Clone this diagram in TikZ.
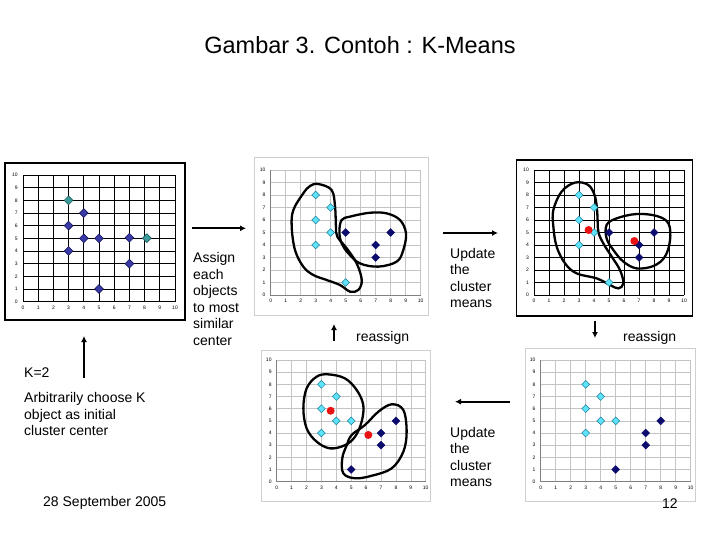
\documentclass[tikz,border=0pt]{standalone}
\usepackage{fontspec}
\setmainfont{Liberation Sans}
\usetikzlibrary{arrows.meta,shapes.geometric}
\definecolor{ptblue}{HTML}{3A3AA6}
\definecolor{ptblueE}{HTML}{15155A}
\definecolor{ptteal}{HTML}{3C9C9C}
\definecolor{ptteaE}{HTML}{1E5E5E}
\definecolor{ptcyan}{HTML}{5FE3FA}
\definecolor{ptcyanE}{HTML}{1A7F9A}
\definecolor{ptnavy}{HTML}{0C0C6E}
\definecolor{ptred}{HTML}{E81212}
\definecolor{lgrid}{HTML}{C4C4C4}
\definecolor{lframe}{HTML}{CFCFCF}
\newcommand{\kmgrid}[3]{%
  \draw[#2] (0,0) grid[step=1] (10,10);
  \draw[#3] (0,10) -- (0,0) -- (10,0);
  \foreach \i in {0,...,10}{%
    \node[ticklab, anchor=north] (#1x\i) at (\i,-0.3) {\i};
    \node[ticklab, anchor=east] (#1y\i) at (-0.3,\i) {\i};
  }}
\begin{document}
\begin{tikzpicture}[x=1pt,y=-1pt,
  ticklab/.style={font=\fontsize{5}{6}\selectfont, inner sep=0.5pt},
  darkgrid/.style={draw=black, line width=0.8pt},
  darkaxis/.style={draw=black, line width=1pt},
  litegrid/.style={draw=lgrid, line width=0.6pt},
  liteaxis/.style={draw=gray, line width=0.7pt},
  darkframe/.style={draw=black, line width=1.2pt},
  liteframe/.style={draw=lframe, line width=1pt},
  dmA/.style={diamond, fill=ptblue, draw=ptblueE, line width=0.6pt, minimum size=9pt, inner sep=0pt},
  dmT/.style={diamond, fill=ptteal, draw=ptteaE, line width=0.6pt, minimum size=9pt, inner sep=0pt},
  dmC/.style={diamond, fill=ptcyan, draw=ptcyanE, line width=0.5pt, minimum size=8pt, inner sep=0pt},
  dmN/.style={diamond, fill=ptnavy, draw=ptnavy, line width=0.5pt, minimum size=8pt, inner sep=0pt},
  rdot/.style={circle, fill=ptred, minimum size=8pt, inner sep=0pt},
  blob/.style={draw=black, line width=2.3pt},
  flow/.style={line width=2pt, -{Latex[length=6pt,width=6pt]}},
  txt/.style={font=\fontsize{14}{16.5}\selectfont, align=left, inner sep=0pt, anchor=north west}
]
\useasboundingbox (0,0) rectangle (720,540);

% title
\node[font=\fontsize{23.5}{26}\selectfont] (title) at (360,45) {Gambar 3. Contoh : K-Means};

% ---------- plot 1 ----------
\draw[darkframe] (5,163) rectangle (185,320);
\begin{scope}[shift={(23pt,-301.7pt)}, x=15.2pt, y=12.67pt]
  \kmgrid{pa}{darkgrid}{darkaxis}
  \node[dmT] (pa1) at (3,8) {};
  \node[dmA] (pa2) at (4,7) {};
  \node[dmA] (pa3) at (3,6) {};
  \node[dmA] (pa4) at (4,5) {};
  \node[dmA] (pa5) at (5,5) {};
  \node[dmA] (pa6) at (3,4) {};
  \node[dmA] (pa7) at (7,5.05) {};
  \node[dmT] (pa8) at (8.15,5.02) {};
  \node[dmA] (pa9) at (7,3) {};
  \node[dmA] (pa10) at (5,1) {};
\end{scope}

% ---------- plot 2 ----------
\draw[liteframe] (254,158) rectangle (428,315);
\begin{scope}[shift={(270.7pt,-295pt)}, x=15pt, y=12.5pt]
  \kmgrid{pb}{litegrid}{liteaxis}
  \draw[blob] plot[smooth cycle, tension=0.6] coordinates {(3.17,8.88) (4.06,8.4) (4.29,7.07) (4.35,5.47) (4.44,4.67) (5.07,3.73) (5.73,2.53) (6.07,1.2) (5.84,0.4) (5.29,0.27) (4.62,0.8) (3.73,1.2) (2.84,1.6) (2.17,2.27) (1.62,3.6) (1.4,5.47) (1.51,6.8) (2.17,8.13) (2.62,8.72)};
  \draw[blob] plot[smooth cycle, tension=0.6] coordinates {(4.73,6.0) (5.29,6.27) (6.62,6.58) (7.73,6.53) (8.62,6.0) (9.02,4.93) (8.84,3.6) (8.4,2.67) (7.17,2.27) (5.95,2.53) (5.18,3.33) (4.73,4.13) (4.58,5.07)};
  \node[dmC] (pb1) at (3,8) {};
  \node[dmC] (pb2) at (4,7) {};
  \node[dmC] (pb3) at (3,6) {};
  \node[dmC] (pb4) at (4,5) {};
  \node[dmC] (pb5) at (3,4) {};
  \node[dmC] (pb6) at (5,1) {};
  \node[dmN] (pb7) at (5,5) {};
  \node[dmN] (pb8) at (7,4) {};
  \node[dmN] (pb9) at (7,3) {};
  \node[dmN] (pb10) at (8,5) {};
\end{scope}

% ---------- plot 3 ----------
\draw[darkframe] (516.7,160) rectangle (692.7,316);
\begin{scope}[shift={(534pt,-295pt)}, x=15pt, y=12.5pt]
  \kmgrid{pc}{darkgrid}{darkaxis}
  \draw[blob] plot[smooth cycle, tension=0.6] coordinates {(2.73,8.99) (3.62,8.8) (4.07,7.87) (4.22,6.53) (4.29,5.07) (4.62,4.13) (5.18,3.07) (5.73,2.0) (5.96,0.93) (5.62,0.53) (5.07,0.8) (4.18,1.33) (2.84,1.73) (2.07,2.53) (1.51,3.87) (1.29,5.47) (1.29,6.8) (1.84,8.27)};
  \draw[blob] plot[smooth cycle, tension=0.6] coordinates {(4.84,5.6) (5.51,6.13) (6.84,6.48) (8.18,6.32) (8.96,5.73) (9.07,4.4) (8.73,3.07) (7.96,2.32) (6.84,2.13) (5.96,2.67) (5.29,3.6) (4.84,4.53)};
  \node[dmC] (pc1) at (3,8) {};
  \node[dmC] (pc2) at (4,7) {};
  \node[dmC] (pc3) at (3,6) {};
  \node[dmC] (pc4) at (4,5) {};
  \node[dmC] (pc5) at (3,4) {};
  \node[dmC] (pc6) at (5,1) {};
  \node[dmN] (pc7) at (5,5) {};
  \node[dmN] (pc8) at (7,4) {};
  \node[dmN] (pc9) at (7,3) {};
  \node[dmN] (pc10) at (8,5) {};
  \node[rdot] (pcm1) at (3.64,5.2) {};
  \node[rdot] (pcm2) at (6.69,4.32) {};
\end{scope}

% ---------- plot 4 ----------
\draw[liteframe] (261,350) rectangle (430,501.7);
\begin{scope}[shift={(276.7pt,-481.7pt)}, x=14.9pt, y=12.17pt]
  \kmgrid{pd}{litegrid}{liteaxis}
  \draw[blob] plot[smooth cycle, tension=0.6] coordinates {(3.46,8.82) (4.58,8.49) (5.37,7.53) (5.81,6.3) (5.7,4.93) (5.26,3.7) (4.58,3.0) (3.58,2.74) (2.68,3.29) (2.01,4.38) (1.79,6.03) (2.01,7.67) (2.68,8.63)};
  \draw[blob] plot[smooth cycle, tension=0.6] coordinates {(5.03,3.84) (5.93,4.66) (6.82,5.75) (7.72,6.36) (8.5,5.89) (8.72,4.11) (8.5,2.47) (7.72,1.1) (6.38,0.49) (5.26,0.28) (4.47,0.69) (4.4,1.92) (4.7,3.0)};
  \node[dmC] (pd1) at (3,8) {};
  \node[dmC] (pd2) at (4,7) {};
  \node[dmC] (pd3) at (3,6) {};
  \node[dmC] (pd4) at (4,5) {};
  \node[dmC] (pd5) at (5,5) {};
  \node[dmC] (pd6) at (3,4) {};
  \node[dmN] (pd7) at (8,5) {};
  \node[dmN] (pd8) at (7,4) {};
  \node[dmN] (pd9) at (7,3) {};
  \node[dmN] (pd10) at (5,1) {};
  \node[rdot] (pdm1) at (3.62,5.83) {};
  \node[rdot] (pdm2) at (6.15,3.84) {};
\end{scope}

% ---------- plot 5 ----------
\draw[liteframe] (525,348) rectangle (695,501);
\begin{scope}[shift={(540.7pt,-481.7pt)}, x=15pt, y=12.17pt]
  \kmgrid{pe}{litegrid}{liteaxis}
  \node[dmC] (pe1) at (3,8) {};
  \node[dmC] (pe2) at (4,7) {};
  \node[dmC] (pe3) at (3,6) {};
  \node[dmC] (pe4) at (4,5) {};
  \node[dmC] (pe5) at (5,5) {};
  \node[dmC] (pe6) at (3,4) {};
  \node[dmN] (pe7) at (8,5) {};
  \node[dmN] (pe8) at (7,4) {};
  \node[dmN] (pe9) at (7,3) {};
  \node[dmN] (pe10) at (5,1) {};
\end{scope}

% ---------- arrows ----------
\coordinate (a1s) at (191.7,228.3); \coordinate (a1e) at (246,228.3);
\coordinate (a2s) at (443,233);     \coordinate (a2e) at (498,233);
\coordinate (a3s) at (334,341);     \coordinate (a3e) at (334,324);
\coordinate (a4s) at (595,321);     \coordinate (a4e) at (595,338);
\coordinate (a5s) at (510,401.7);   \coordinate (a5e) at (455,401.7);
\coordinate (a6s) at (84,378);      \coordinate (a6e) at (84,336);
\draw[flow] (a1s) -- (a1e);
\draw[flow] (a2s) -- (a2e);
\draw[flow] (a3s) -- (a3e);
\draw[flow] (a4s) -- (a4e);
\draw[flow] (a5s) -- (a5e);
\draw[flow] (a6s) -- (a6e);

% ---------- texts ----------
\node[txt] (assign) at (193,252.5) {Assign\\each\\objects\\to most\\similar\\center};
\node[txt] (upd1) at (450,248) {Update\\the\\cluster\\means};
\node[txt] (upd2) at (450,427) {Update\\the\\cluster\\means};
\node[txt, anchor=west] (reas1) at (356,337.5) {reassign};
\node[txt, anchor=west] (reas2) at (623,337.5) {reassign};
\node[txt, anchor=west] (k2) at (24,373) {K=2};
\node[txt] (arb) at (24,392.5) {Arbitrarily choose K\\object as initial\\cluster center};
\node[txt, anchor=west] (date) at (43,503) {28 September 2005};
\node[txt] (pg) at (662,499) {12};
\end{tikzpicture}
\end{document}
